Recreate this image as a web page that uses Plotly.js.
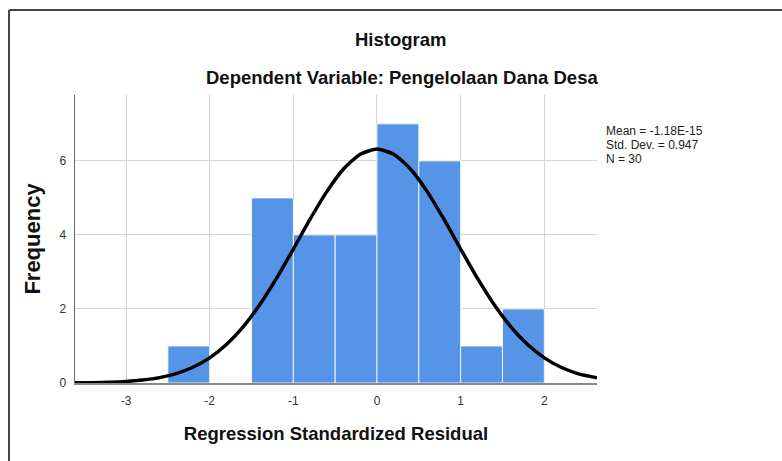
<!DOCTYPE html>
<html>
<head>
<meta charset="utf-8">
<script src="https://cdn.plot.ly/plotly-3.0.1.min.js"></script>
<style>
html,body{margin:0;padding:0;background:#fff;}
#chart{width:782px;height:461px;}
</style>
</head>
<body>
<div id="chart"></div>
<script>
// Histogram bins (bin centres) and frequencies
const binCenters = [-2.25, -1.25, -0.75, -0.25, 0.25, 0.75, 1.25, 1.75];
const frequencies = [1, 5, 4, 4, 7, 6, 1, 2];
const binWidth = 0.5;

// Normal curve points
const curveX = [-3.62, -3.4, -3.2, -3.0, -2.8, -2.6, -2.4, -2.2, -2.0, -1.8, -1.6, -1.4, -1.2, -1.0, -0.8, -0.6, -0.4, -0.2, 0.0,
                0.2, 0.4, 0.6, 0.8, 1.0, 1.2, 1.4, 1.6, 1.8, 2.0, 2.2, 2.4, 2.63];
const curveY = [0.005, 0.010, 0.021, 0.042, 0.080, 0.146, 0.255, 0.425, 0.680, 1.039, 1.517, 2.119, 2.831, 3.619, 4.424, 5.170, 5.781, 6.180, 6.320,
                6.180, 5.781, 5.170, 4.424, 3.619, 2.831, 2.119, 1.517, 1.039, 0.680, 0.425, 0.255, 0.140];

const xTicks = [-3, -2, -1, 0, 1, 2];
const yTicks = [0, 2, 4, 6];
const statsLines = ["Mean = -1.18E-15", "Std. Dev. = 0.947", "N = 30"];

const FONT = "Liberation Sans, Arial, sans-serif";

const traces = [
  {
    type: "bar",
    x: binCenters,
    y: frequencies,
    width: binWidth,
    marker: {color: "#5594e6", line: {color: "rgba(255,255,255,0.85)", width: 1}},
    hoverinfo: "skip",
    showlegend: false
  },
  {
    type: "scatter",
    mode: "lines",
    x: curveX,
    y: curveY,
    line: {color: "#000000", width: 3.5, shape: "spline", smoothing: 0.6},
    hoverinfo: "skip",
    showlegend: false
  }
];

const statAnn = statsLines.map((t, i) => ({
  text: t, xref: "paper", yref: "paper", x: 1.013, y: (383 - 131 - i * 14) / 288,
  xanchor: "left", yanchor: "middle", align: "left", showarrow: false,
  font: {family: FONT, size: 12, color: "#222"}
}));

const layout = {
  width: 782,
  height: 461,
  paper_bgcolor: "#ffffff",
  plot_bgcolor: "#ffffff",
  margin: {l: 75, r: 185, t: 95, b: 78},
  bargap: 0,
  showlegend: false,
  font: {family: FONT, color: "#222"},
  xaxis: {
    range: [-3.61, 2.63],
    tickvals: xTicks,
    ticktext: xTicks.map(String),
    showgrid: true,
    gridcolor: "#d4d4d4",
    gridwidth: 1,
    zeroline: false,
    showline: true,
    linecolor: "#888888",
    linewidth: 1.5,
    ticks: "",
    tickfont: {family: FONT, size: 12, color: "#333"},
    ticklabelstandoff: 6,
    title: {text: "Regression Standardized Residual", font: {family: FONT, size: 18.5, color: "#111", weight: "bold"}, standoff: 20}
  },
  yaxis: {
    range: [0, 7.78],
    tickvals: yTicks,
    ticktext: yTicks.map(String),
    showgrid: true,
    gridcolor: "#d4d4d4",
    gridwidth: 1,
    zeroline: false,
    showline: true,
    linecolor: "#666666",
    linewidth: 1.5,
    ticks: "",
    tickfont: {family: FONT, size: 12, color: "#333"},
    ticklabelstandoff: 5,
    title: {text: "Frequency", font: {family: FONT, size: 22, color: "#111", weight: "bold"}, standoff: 12}
  },
  annotations: [
    {text: "Histogram", xref: "paper", yref: "paper", x: 0.625, y: (383 - 40) / 288, xanchor: "center", yanchor: "middle",
     showarrow: false, font: {family: FONT, size: 18.5, color: "#111", weight: "bold"}},
    {text: "Dependent Variable: Pengelolaan Dana Desa", xref: "paper", yref: "paper", x: 0.627, y: (383 - 77) / 288, xanchor: "center", yanchor: "middle",
     showarrow: false, font: {family: FONT, size: 18.5, color: "#111", weight: "bold"}}
  ].concat(statAnn),
  shapes: [
    {type: "line", xref: "paper", yref: "paper", x0: -0.1264, x1: -0.1264, y0: -0.3, y1: 1.295, line: {color: "#444", width: 2}},
    {type: "line", xref: "paper", yref: "paper", x0: -0.1264, x1: 1.4, y0: 1.295, y1: 1.295, line: {color: "#444", width: 2}}
  ]
};

Plotly.newPlot("chart", traces, layout, {displayModeBar: false, staticPlot: true});
</script>
</body>
</html>
